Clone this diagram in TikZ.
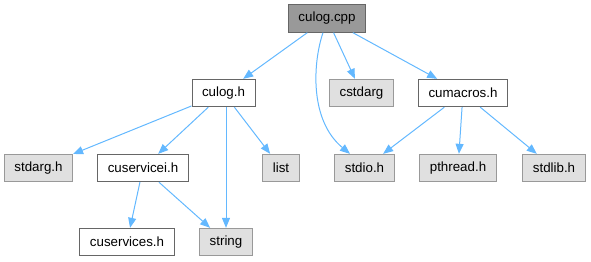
\documentclass[tikz,border=0pt]{standalone}
\usepackage{fontspec}
\setmainfont{Liberation Sans}
\usetikzlibrary{arrows.meta}
\definecolor{edgeblue}{HTML}{63B8FF}
\definecolor{rootfill}{HTML}{999999}
\definecolor{leaffill}{HTML}{E0E0E0}
\definecolor{darkline}{HTML}{666666}
\definecolor{lightline}{HTML}{999999}
\tikzset{>={Triangle[length=7.5pt,width=6pt]}}
\tikzset{
  hdr/.style={draw=darkline, fill=white, line width=0.75pt, inner xsep=7.5pt,
    minimum height=20.5pt, font=\fontsize{10}{12}\selectfont},
  root/.style={hdr, fill=rootfill},
  sys/.style={hdr, draw=lightline, fill=leaffill},
  dep/.style={->, draw=edgeblue, line width=0.75pt}
}

\begin{document}
\begin{tikzpicture}[x=0.75pt,y=-0.75pt]
  \useasboundingbox (0,0) rectangle (591,261);

  %% top row
  \node[root] (culogcpp) at (327,18.5) {culog.cpp};

  %% second row
  \node[hdr] (culogh)   at (223.5,93) {culog.h};
  \node[sys] (cstdarg)  at (361.5,93) {cstdarg};
  \node[hdr] (cumacros) at (463,93)   {cumacros.h};

  %% third row
  \node[sys] (stdargh)    at (38.5,168) {stdarg.h};
  \node[hdr] (cuservicei) at (143,168)  {cuservicei.h};
  \node[sys] (list)       at (281,168)  {list};
  \node[sys] (stdioh)     at (364.5,168) {stdio.h};
  \node[sys] (pthreadh)   at (458,168)  {pthread.h};
  \node[sys] (stdlibh)    at (554,168)  {stdlib.h};

  %% bottom row
  \node[hdr] (cuservices) at (127,242) {cuservices.h};
  \node[sys] (string)     at (226,242) {string};

  %% includes of culog.cpp
  \draw[dep] (culogcpp) -- (culogh);
  \draw[dep] (culogcpp) -- (cstdarg);
  \draw[dep] (culogcpp) -- (cumacros);
  \draw[dep] (culogcpp.south -| 323,0) .. controls (313,62) and (309,120) .. (stdioh.north -| 350,0);

  %% includes of culog.h
  \draw[dep] (culogh) -- (stdargh);
  \draw[dep] (culogh) -- (cuservicei);
  \draw[dep] (culogh.south -| 226,0) -- (string);
  \draw[dep] (culogh) -- (list);

  %% includes of cuservicei.h
  \draw[dep] (cuservicei) -- (cuservices);
  \draw[dep] (cuservicei) -- (string);

  %% includes of cumacros.h
  \draw[dep] (cumacros) -- (stdioh);
  \draw[dep] (cumacros) -- (pthreadh);
  \draw[dep] (cumacros) -- (stdlibh);

\end{tikzpicture}
\end{document}
